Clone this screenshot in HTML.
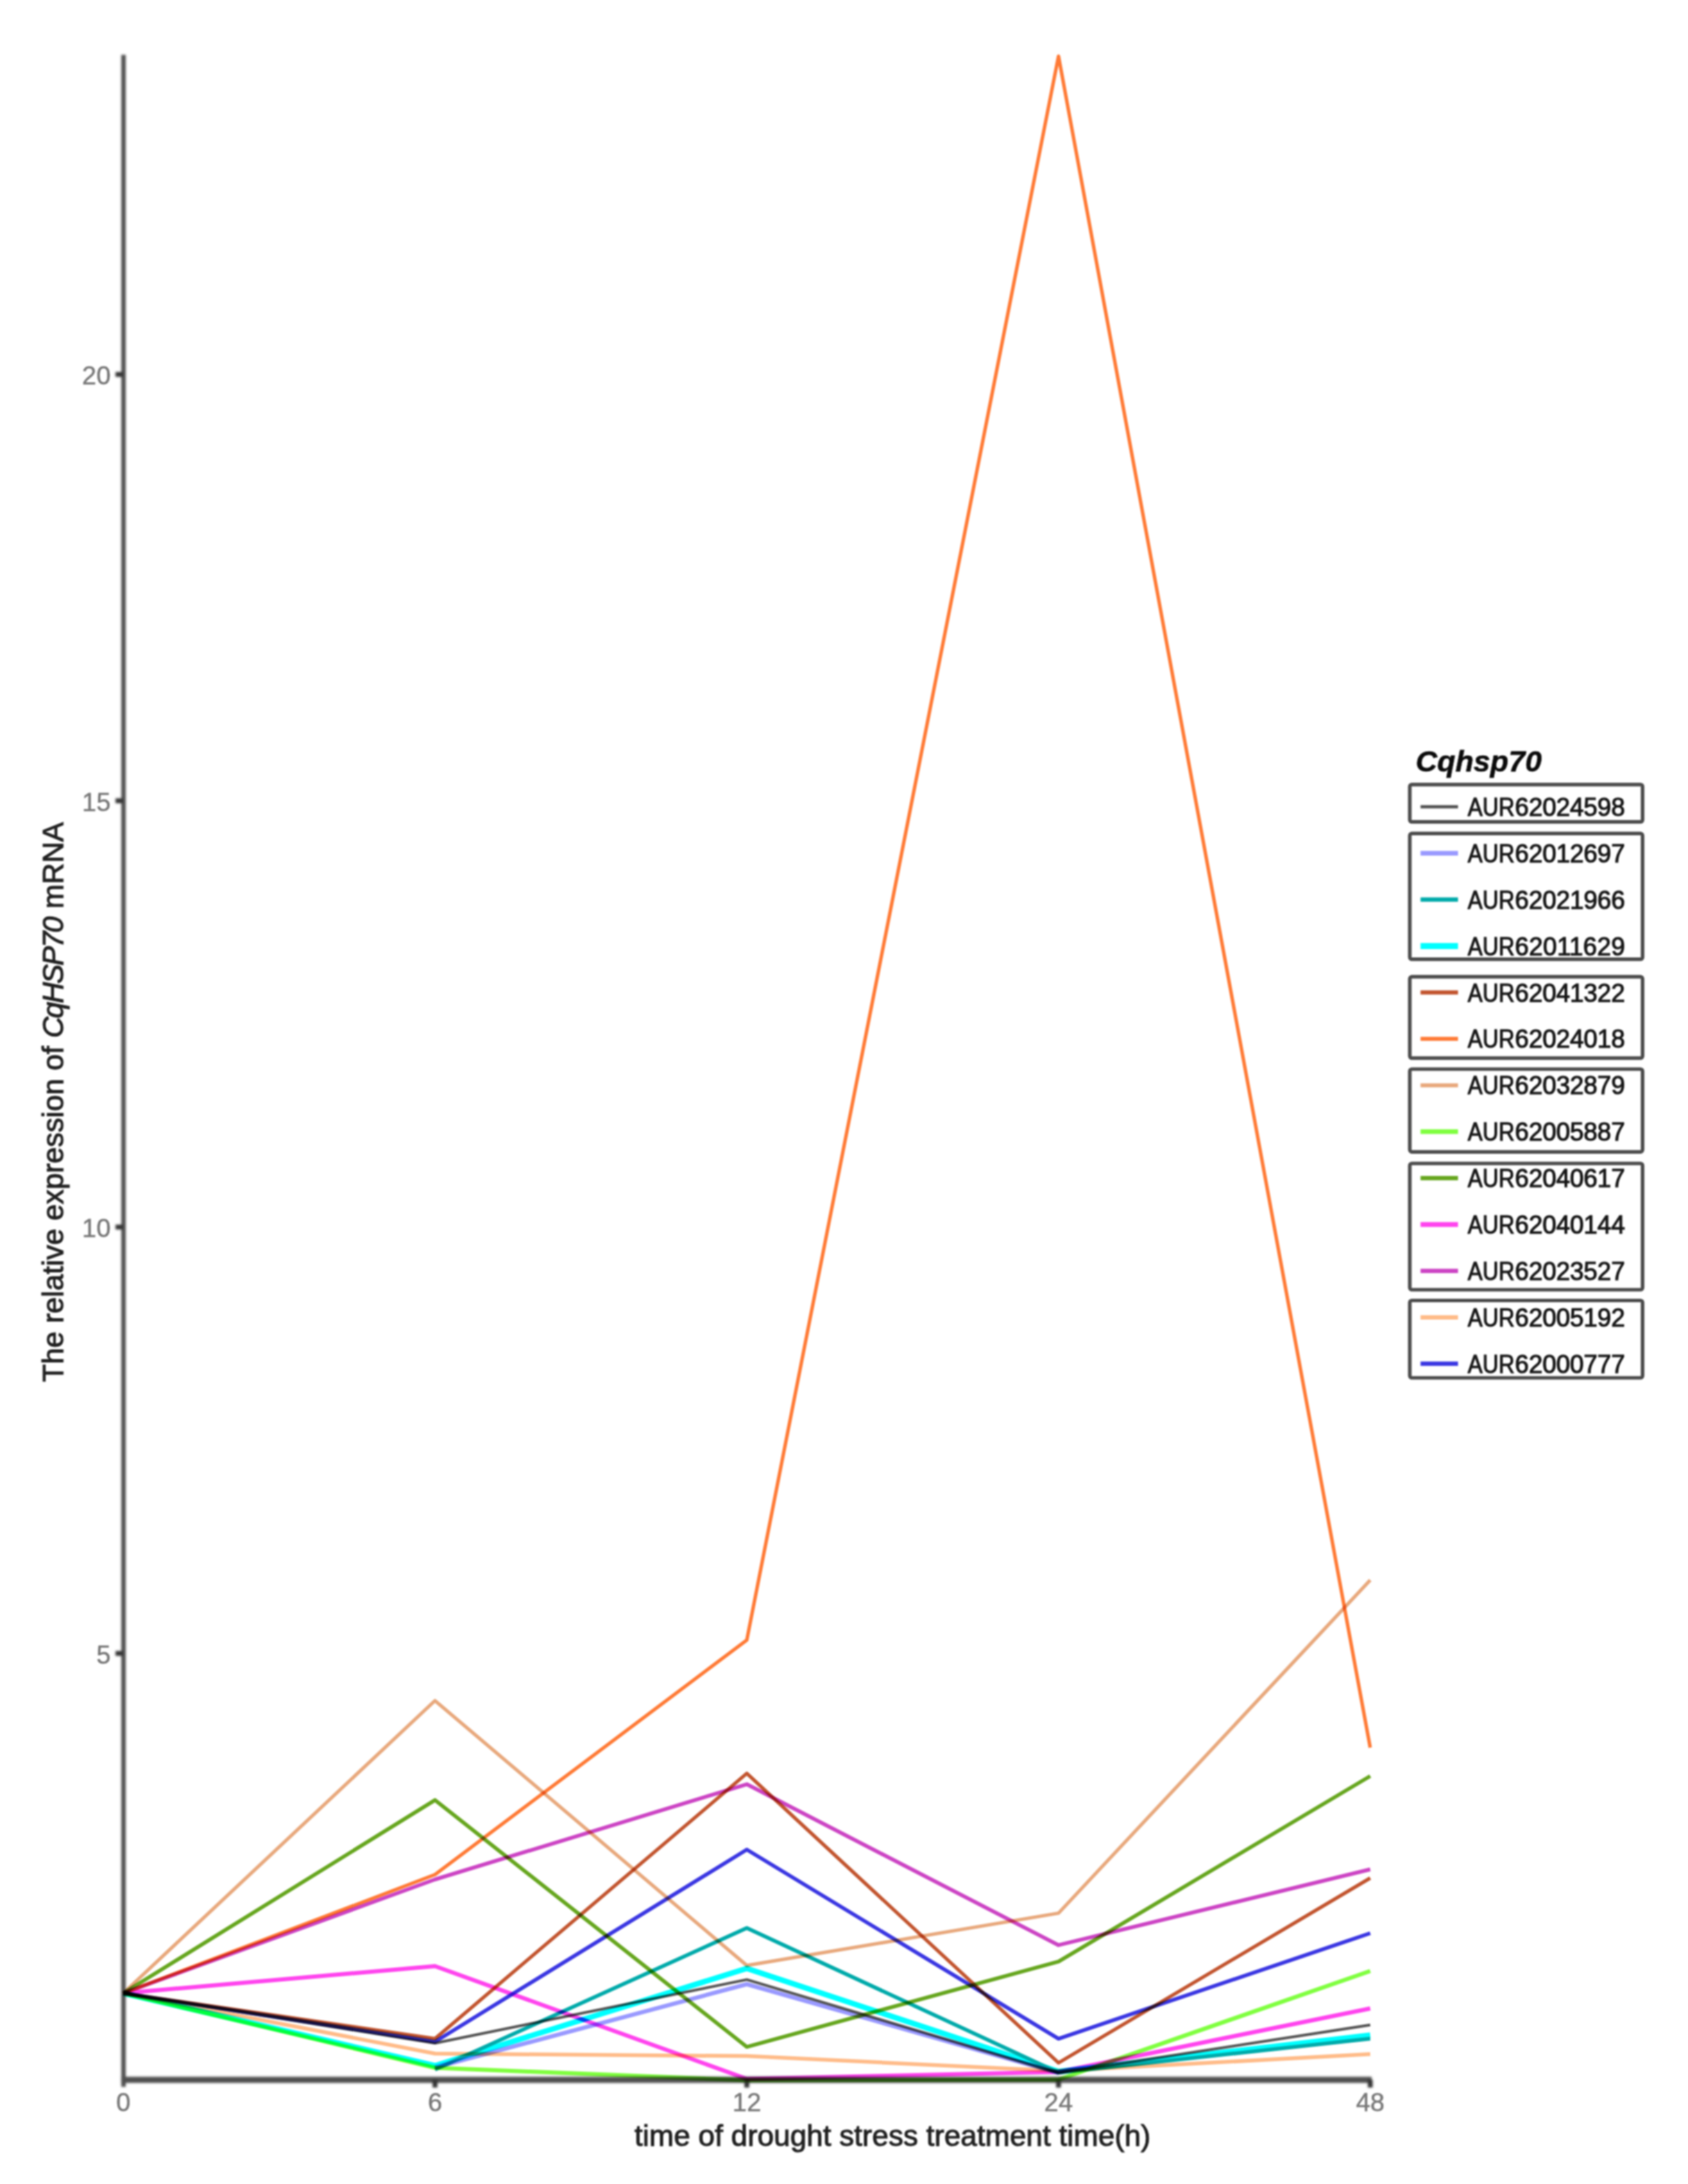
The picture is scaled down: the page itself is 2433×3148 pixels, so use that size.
<!DOCTYPE html>
<html lang="en"><head><meta charset="utf-8"><title>Cqhsp70 drought stress expression</title>
<style>
html,body{margin:0;padding:0;background:#fff;}
body{width:2433px;height:3148px;overflow:hidden;}
svg{display:block;font-family:"Liberation Sans",Arial,sans-serif;filter:blur(1.3px);}
.ln{fill:none;stroke-linejoin:round;stroke-linecap:butt;mix-blend-mode:multiply;}
.tk{fill:#777;font-size:37px;stroke:#777;stroke-width:0.5;}
.lg{fill:#161616;font-size:36px;stroke:#161616;stroke-width:1.1;}
.tt{fill:#202020;stroke:#202020;stroke-width:1.0;}
.bx{fill:none;stroke:#4c4c4c;stroke-width:5.2;stroke-linejoin:round;}
</style></head><body>
<svg width="2433" height="3148" viewBox="0 0 2433 3148" style="isolation:isolate">
<rect width="2433" height="3148" fill="#fff"/>
<g stroke="#4e4e4e" fill="none" style="filter:blur(1.4px)">
<line x1="178" y1="79" x2="178" y2="3008" stroke-width="6.4"/>
<line x1="174.8" y1="2997.9" x2="1977" y2="2997.9" stroke-width="8.6"/>
<line x1="627" y1="2997.7" x2="627" y2="3009" stroke-width="7" stroke="#333"/>
<line x1="1076.4" y1="2997.7" x2="1076.4" y2="3009" stroke-width="7" stroke="#333"/>
<line x1="1525.7" y1="2997.7" x2="1525.7" y2="3009" stroke-width="7" stroke="#333"/>
<line x1="1975" y1="2997.7" x2="1975" y2="3009" stroke-width="7" stroke="#333"/>
<line x1="166.5" y1="2383.2" x2="177" y2="2383.2" stroke-width="7" stroke="#333"/>
<line x1="166.5" y1="1768.7" x2="177" y2="1768.7" stroke-width="7" stroke="#333"/>
<line x1="166.5" y1="1154.2" x2="177" y2="1154.2" stroke-width="7" stroke="#333"/>
<line x1="166.5" y1="539.7" x2="177" y2="539.7" stroke-width="7" stroke="#333"/>
</g>
<text class="tk" x="177.7" y="3043" text-anchor="middle">0</text>
<text class="tk" x="627" y="3043" text-anchor="middle">6</text>
<text class="tk" x="1076.4" y="3043" text-anchor="middle">12</text>
<text class="tk" x="1525.7" y="3043" text-anchor="middle">24</text>
<text class="tk" x="1975" y="3043" text-anchor="middle">48</text>
<text class="tk" x="159.5" y="2397.5" text-anchor="end">5</text>
<text class="tk" x="159.5" y="1783" text-anchor="end">10</text>
<text class="tk" x="159.5" y="1168.5" text-anchor="end">15</text>
<text class="tk" x="159.5" y="554" text-anchor="end">20</text>
<text class="tt" x="914.5" y="3093" font-size="42.5">time of drought stress treatment time(h)</text>
<g transform="translate(90.8 0) rotate(-90)"><text class="tt" font-size="42.3"><tspan x="-1992">The relative expression of </tspan><tspan x="-1496" font-style="italic" textLength="175" lengthAdjust="spacing">CqHSP70</tspan><tspan x="-1321.4"> mRNA</tspan></text></g>
<g style="isolation:auto">
<polyline class="ln" stroke="#555555" stroke-width="4" points="177.7,2873 627,2945 1076.4,2853.4 1525.7,2988 1975,2918.7"/>
<polyline class="ln" stroke="#9999ff" stroke-width="6" points="627,2980 1076.4,2860 1525.7,2988"/>
<polyline class="ln" stroke="#00aaaa" stroke-width="5.5" points="627,2983 1076.4,2779 1525.7,2987.5 1975,2938.5"/>
<polyline class="ln" stroke="#00ffff" stroke-width="8" points="177.7,2873 627,2977.5 1076.4,2837.3 1525.7,2986 1975,2933.5"/>
<polyline class="ln" stroke="#c2542e" stroke-width="5" points="177.7,2873 627,2938.5 1076.4,2556.2 1525.7,2973.3 1975,2707"/>
<polyline class="ln" stroke="#ff7a35" stroke-width="5" points="177.7,2873 627,2702 1076.4,2364 1525.7,81 1975,2519"/>
<polyline class="ln" stroke="#e8a87c" stroke-width="5" points="177.7,2873 627,2451.3 1076.4,2833 1525.7,2757.6 1975,2277.5"/>
<polyline class="ln" stroke="#80ff40" stroke-width="6" points="177.7,2873 627,2980.5 1076.4,2998.5 1525.7,2997.5 1975,2841"/>
<polyline class="ln" stroke="#66a61e" stroke-width="5.5" points="177.7,2873 627,2594.6 1076.4,2950.3 1525.7,2827.4 1975,2560"/>
<polyline class="ln" stroke="#ff44ee" stroke-width="6" points="177.7,2873 627,2834 1076.4,2996.5 1525.7,2986.5 1975,2895"/>
<polyline class="ln" stroke="#cc44c4" stroke-width="5.5" points="177.7,2873 627,2709 1076.4,2571.8 1525.7,2803.7 1975,2694.5"/>
<polyline class="ln" stroke="#ffbb88" stroke-width="5.5" points="177.7,2873 627,2960 1076.4,2963.6 1525.7,2985 1975,2960.8"/>
<polyline class="ln" stroke="#3a36e2" stroke-width="5.5" points="177.7,2873 627,2943 1076.4,2666 1525.7,2938.6 1975,2786.5"/>
</g>
<text x="2040.5" y="1111.6" font-size="43" font-weight="bold" font-style="italic" fill="#0a0a0a" stroke="#0a0a0a" stroke-width="0.6" >Cqhsp70</text>
<rect class="bx" x="2032" y="1130.8" width="335.5" height="53.9" rx="3"/>
<rect class="bx" x="2032" y="1201.4" width="335.5" height="181.3" rx="3"/>
<rect class="bx" x="2032" y="1407.9" width="335.5" height="117.3" rx="3"/>
<rect class="bx" x="2032" y="1541" width="335.5" height="119.3" rx="3"/>
<rect class="bx" x="2032" y="1677" width="335.5" height="182" rx="3"/>
<rect class="bx" x="2032" y="1874.5" width="335.5" height="111.5" rx="3"/>
<line x1="2047.5" y1="1162.9" x2="2101.5" y2="1162.9" stroke="#555555" stroke-width="4.8"/>
<text class="lg" y="1175.9"><tspan x="2115.5" textLength="67.6" lengthAdjust="spacingAndGlyphs">AUR</tspan><tspan x="2183.6" textLength="158.6" lengthAdjust="spacing">62024598</tspan></text>
<line x1="2047.5" y1="1229.8" x2="2101.5" y2="1229.8" stroke="#9999ff" stroke-width="6.8"/>
<text class="lg" y="1242.8"><tspan x="2115.5" textLength="67.6" lengthAdjust="spacingAndGlyphs">AUR</tspan><tspan x="2183.6" textLength="158.6" lengthAdjust="spacing">62012697</tspan></text>
<line x1="2047.5" y1="1296.7" x2="2101.5" y2="1296.7" stroke="#00aaaa" stroke-width="6.3"/>
<text class="lg" y="1309.7"><tspan x="2115.5" textLength="67.6" lengthAdjust="spacingAndGlyphs">AUR</tspan><tspan x="2183.6" textLength="158.6" lengthAdjust="spacing">62021966</tspan></text>
<line x1="2047.5" y1="1363.6" x2="2101.5" y2="1363.6" stroke="#00ffff" stroke-width="8.8"/>
<text class="lg" y="1376.6"><tspan x="2115.5" textLength="67.6" lengthAdjust="spacingAndGlyphs">AUR</tspan><tspan x="2183.6" textLength="158.6" lengthAdjust="spacing">62011629</tspan></text>
<line x1="2047.5" y1="1430.5" x2="2101.5" y2="1430.5" stroke="#c2542e" stroke-width="5.8"/>
<text class="lg" y="1443.5"><tspan x="2115.5" textLength="67.6" lengthAdjust="spacingAndGlyphs">AUR</tspan><tspan x="2183.6" textLength="158.6" lengthAdjust="spacing">62041322</tspan></text>
<line x1="2047.5" y1="1497.4" x2="2101.5" y2="1497.4" stroke="#ff7a35" stroke-width="5.8"/>
<text class="lg" y="1510.4"><tspan x="2115.5" textLength="67.6" lengthAdjust="spacingAndGlyphs">AUR</tspan><tspan x="2183.6" textLength="158.6" lengthAdjust="spacing">62024018</tspan></text>
<line x1="2047.5" y1="1564.3" x2="2101.5" y2="1564.3" stroke="#e8a87c" stroke-width="5.8"/>
<text class="lg" y="1577.3"><tspan x="2115.5" textLength="67.6" lengthAdjust="spacingAndGlyphs">AUR</tspan><tspan x="2183.6" textLength="158.6" lengthAdjust="spacing">62032879</tspan></text>
<line x1="2047.5" y1="1631.2" x2="2101.5" y2="1631.2" stroke="#80ff40" stroke-width="6.8"/>
<text class="lg" y="1644.2"><tspan x="2115.5" textLength="67.6" lengthAdjust="spacingAndGlyphs">AUR</tspan><tspan x="2183.6" textLength="158.6" lengthAdjust="spacing">62005887</tspan></text>
<line x1="2047.5" y1="1698.1" x2="2101.5" y2="1698.1" stroke="#66a61e" stroke-width="6.3"/>
<text class="lg" y="1711.1"><tspan x="2115.5" textLength="67.6" lengthAdjust="spacingAndGlyphs">AUR</tspan><tspan x="2183.6" textLength="158.6" lengthAdjust="spacing">62040617</tspan></text>
<line x1="2047.5" y1="1765" x2="2101.5" y2="1765" stroke="#ff44ee" stroke-width="6.8"/>
<text class="lg" y="1778"><tspan x="2115.5" textLength="67.6" lengthAdjust="spacingAndGlyphs">AUR</tspan><tspan x="2183.6" textLength="158.6" lengthAdjust="spacing">62040144</tspan></text>
<line x1="2047.5" y1="1831.9" x2="2101.5" y2="1831.9" stroke="#cc44c4" stroke-width="6.3"/>
<text class="lg" y="1844.9"><tspan x="2115.5" textLength="67.6" lengthAdjust="spacingAndGlyphs">AUR</tspan><tspan x="2183.6" textLength="158.6" lengthAdjust="spacing">62023527</tspan></text>
<line x1="2047.5" y1="1898.8" x2="2101.5" y2="1898.8" stroke="#ffbb88" stroke-width="6.3"/>
<text class="lg" y="1911.8"><tspan x="2115.5" textLength="67.6" lengthAdjust="spacingAndGlyphs">AUR</tspan><tspan x="2183.6" textLength="158.6" lengthAdjust="spacing">62005192</tspan></text>
<line x1="2047.5" y1="1965.7" x2="2101.5" y2="1965.7" stroke="#3a36e2" stroke-width="6.3"/>
<text class="lg" y="1978.7"><tspan x="2115.5" textLength="67.6" lengthAdjust="spacingAndGlyphs">AUR</tspan><tspan x="2183.6" textLength="158.6" lengthAdjust="spacing">62000777</tspan></text>
</svg>
</body></html>
